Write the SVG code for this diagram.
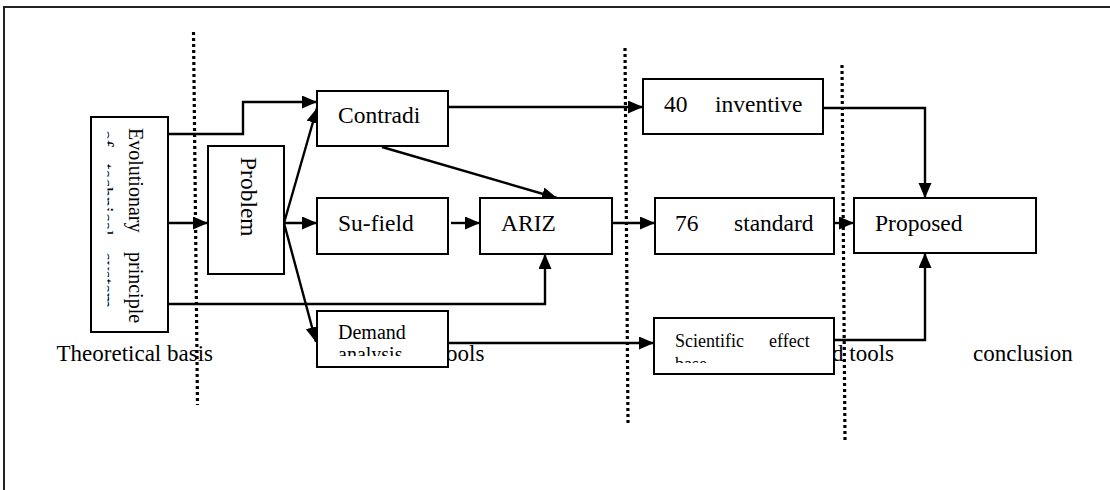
<svg xmlns="http://www.w3.org/2000/svg" width="1110" height="490" viewBox="0 0 1110 490">
<style>
.box{fill:#fff;stroke:#000;stroke-width:2}
.t{font-family:"Liberation Serif","Times New Roman",serif;font-size:23.5px;fill:#000}
.s{font-size:20px}
.xs{font-size:18px}
.lbl{font-family:"Liberation Serif","Times New Roman",serif;font-size:23px;fill:#000}
.c{fill:none;stroke:#000;stroke-width:2.4}
.dot{fill:none;stroke:#000;stroke-width:3.2;stroke-dasharray:3 3}
</style>
<defs>
<marker id="ah" markerUnits="userSpaceOnUse" markerWidth="16" markerHeight="14" refX="15" refY="6.5" orient="auto">
<path d="M0,0 L15,6.5 L0,13 z" fill="#000"/>
</marker>
<clipPath id="cEvo"><rect x="107.5" y="118" width="60" height="213"/></clipPath>
<clipPath id="cDem"><rect x="318" y="312" width="129" height="44"/></clipPath>
<clipPath id="cSci"><rect x="655" y="319" width="178" height="44"/></clipPath>
</defs>
<g id="frame">
<line x1="3" y1="7" x2="1110" y2="7" stroke="#222" stroke-width="2"/>
<line x1="4" y1="7" x2="4" y2="490" stroke="#222" stroke-width="2"/>
</g>
<g id="labels">
<text class="lbl" x="213" y="361" text-anchor="end">Theoretical basis</text>
<text class="lbl" x="446" y="361">ools</text>
<text class="lbl" x="832" y="361">d tools</text>
<text class="lbl" x="973" y="361">conclusion</text>
</g>
<g id="connectors">
<polyline class="c" points="168,134 243,134 243,102 317,102" marker-end="url(#ah)"/>
<line class="c" x1="168" y1="223" x2="208" y2="223" marker-end="url(#ah)"/>
<polyline class="c" points="168,304 545,304 545,254" marker-end="url(#ah)"/>
<line class="c" x1="284" y1="223" x2="317" y2="108" marker-end="url(#ah)"/>
<line class="c" x1="284" y1="223" x2="317" y2="223" marker-end="url(#ah)"/>
<line class="c" x1="284" y1="223" x2="316" y2="342" marker-end="url(#ah)"/>
<line class="c" x1="448" y1="107" x2="643" y2="107" marker-end="url(#ah)"/>
<line class="c" x1="382" y1="147" x2="557" y2="198" marker-end="url(#ah)"/>
<line class="c" x1="451" y1="223" x2="480" y2="223" marker-end="url(#ah)"/>
<line class="c" x1="612" y1="223" x2="655" y2="223" marker-end="url(#ah)"/>
<polyline class="c" points="823,108 925,108 925,198" marker-end="url(#ah)"/>
<line class="c" x1="834" y1="223" x2="854" y2="223" marker-end="url(#ah)"/>
<line class="c" x1="448" y1="343" x2="654" y2="343" marker-end="url(#ah)"/>
<polyline class="c" points="834,340 925,340 925,253" marker-end="url(#ah)"/>
</g>
<g id="evolutionary">
<rect class="box" x="91" y="117" width="77" height="215"/>
<g clip-path="url(#cEvo)">
<text class="t s" transform="translate(128.5,128) rotate(90)"><tspan x="0" y="0">Evolutionary</tspan><tspan x="124" y="0">principle</tspan><tspan x="2" y="29.5" word-spacing="12">of technical system</tspan></text>
</g>
</g>
<g id="problem">
<rect class="box" x="208" y="146" width="76" height="128"/>
<text class="t" transform="translate(241,157) rotate(90)">Problem</text>
</g>
<g id="contradi">
<rect class="box" x="317" y="91" width="131" height="55"/>
<text class="t" x="338" y="123">Contradi</text>
</g>
<g id="sufield">
<rect class="box" x="317" y="198" width="131" height="56"/>
<text class="t" x="338" y="231">Su-field</text>
</g>
<g id="demand">
<rect class="box" x="317" y="311" width="131" height="56"/>
<g clip-path="url(#cDem)">
<text class="t s" x="338" y="339">Demand</text>
<text class="t s" x="338" y="361">analysis</text>
</g>
</g>
<g id="ariz">
<rect class="box" x="480" y="198" width="132" height="56"/>
<text class="t" x="501" y="231">ARIZ</text>
</g>
<g id="inventive">
<rect class="box" x="643" y="79" width="180" height="55"/>
<text class="t" x="664" y="112">40<tspan x="715">inventive</tspan></text>
</g>
<g id="standard">
<rect class="box" x="655" y="198" width="179" height="56"/>
<text class="t" x="675" y="231">76<tspan x="734">standard</tspan></text>
</g>
<g id="scientific">
<rect class="box" x="654" y="318" width="180" height="56"/>
<g clip-path="url(#cSci)">
<text class="t xs" x="675" y="347">Scientific<tspan x="769">effect</tspan></text>
<text class="t xs" x="675" y="370">base</text>
</g>
</g>
<g id="proposed">
<rect class="box" x="854" y="198" width="182" height="55"/>
<text class="t" x="875" y="231">Proposed</text>
</g>
<g id="dividers">
<line class="dot" x1="193.5" y1="32" x2="197.5" y2="405"/>
<line class="dot" x1="625" y1="48" x2="628" y2="423"/>
<line class="dot" x1="842" y1="65" x2="845" y2="440"/>
</g>
</svg>
